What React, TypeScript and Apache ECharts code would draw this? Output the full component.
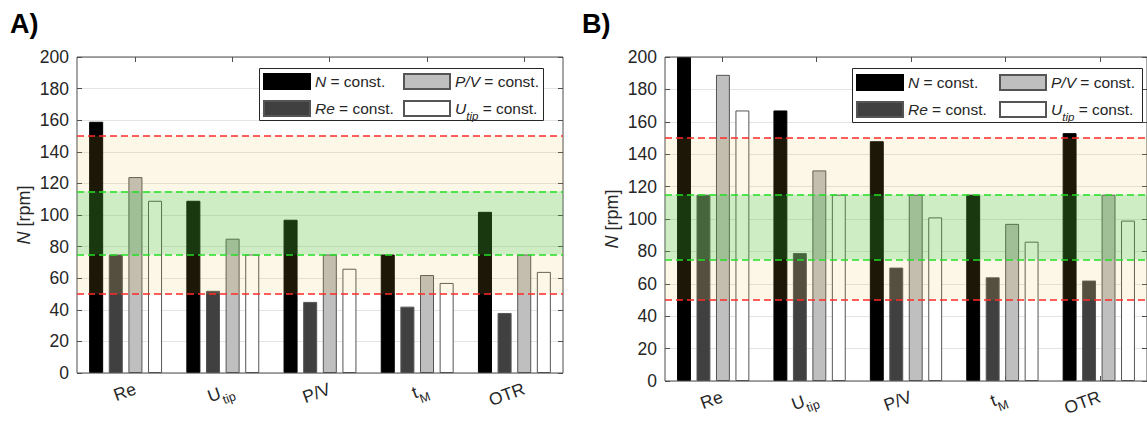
import React, { useEffect, useRef } from "react";
import * as echarts from "echarts";

// ---------- data ----------
const categories = ["Re", "Utip", "PV", "tM", "OTR"];
const seriesNames = ["N", "Re", "PV", "Utip"];

const aN = [159, 109, 97, 75, 102];
const aRe = [75, 52, 45, 42, 38];
const aPV = [124, 85, 75, 62, 75];
const aUtip = [109, 75, 66, 57, 64];

const bN = [200, 167, 148, 115, 153];
const bRe = [115, 79, 70, 64, 62];
const bPV = [189, 130, 115, 97, 115];
const bUtip = [167, 115, 101, 86, 99];

const tickLabels = ["{r|Re}", "{r|U}{sub|tip}", "{r|P/V}", "{r|t}{sub|M}", "{r|OTR}"];
const tickShift = 0.1; // ticks sit 0.1 category to the right of the group centre

const yellowBands = [
  [50, 75],
  [115, 150],
];
const greenBands = [[75, 115]];
const redLines = [50, 150];
const greenLines = [75, 115];

// ---------- styles ----------
const FONT = '"Liberation Sans", Arial, Helvetica, sans-serif';
const TXT = "#262626";
const AX = "#4d4d4d";
const barColors = ["#000000", "#404040", "#bfbfbf", "#ffffff"];
const legendText: Record<string, string> = {
  N: "{i|N}{n| = const.}",
  Re: "{i|Re}{n| = const.}",
  PV: "{i|P/V}{n| = const.}",
  Utip: "{i|U}{si|tip}{n| = const.}",
};

const hiddenParts = {
  axisLine: { show: false },
  axisTick: { show: false },
  axisLabel: { show: false },
  splitLine: { show: false },
};

function App() {
  const ref = useRef<HTMLDivElement>(null);
  useEffect(() => {
    if (!ref.current) return;
    const chart = echarts.init(ref.current, undefined, { renderer: "svg" });

    const mainGrids = [
      { left: 77, top: 57, width: 486, height: 316 },
      { left: 665, top: 57, width: 492, height: 324 },
    ];
    const panels = [
      [aN, aRe, aPV, aUtip],
      [bN, bRe, bPV, bUtip],
    ];

    const grid: any[] = mainGrids.map((g) => ({
      ...g,
      show: true,
      borderColor: AX,
      borderWidth: 1,
      backgroundColor: "transparent",
      z: 4,
    }));
    const shifted = (g: any) => ({
      left: g.left + (g.width / categories.length) * tickShift,
      top: g.top,
      width: g.width,
      height: g.height,
    });
    // grids 2,3: shifted copies used for the tick marks and tick labels
    mainGrids.forEach((g) => grid.push(shifted(g)));

    const xAxis: any[] = [];
    const yAxis: any[] = [];
    const series: any[] = [];

    mainGrids.forEach((g, p) => {
      xAxis.push({
        type: "category",
        gridIndex: p,
        data: categories,
        ...hiddenParts,
      });
      yAxis.push({
        type: "value",
        gridIndex: p,
        position: "left",
        min: 0,
        max: 200,
        interval: 20,
        name: "{i|N}{n| [rpm]}",
        nameLocation: "middle",
        nameRotate: 90,
        nameGap: 44,
        nameTextStyle: {
          fontSize: 18,
          fontFamily: FONT,
          color: TXT,
          rich: {
            i: { fontStyle: "italic", fontSize: 18, fontFamily: FONT, color: TXT },
            n: { fontSize: 18, fontFamily: FONT, color: TXT },
          },
        },
        axisLine: { show: false },
        axisTick: { show: true, inside: true, length: 5, lineStyle: { color: AX } },
        axisLabel: { fontSize: 17.5, fontFamily: FONT, color: TXT, margin: 8 },
        splitLine: { show: true, lineStyle: { color: "#e4e4e4", width: 1 } },
      });
      yAxis.push({
        type: "value",
        gridIndex: p,
        position: "right",
        min: 0,
        max: 200,
        interval: 20,
        axisLine: { show: false },
        axisTick: { show: true, inside: true, length: 5, lineStyle: { color: AX } },
        axisLabel: { show: false },
        splitLine: { show: false },
      });

      const data = panels[p];
      seriesNames.forEach((name, s) => {
        series.push({
          type: "bar",
          name,
          xAxisIndex: p,
          yAxisIndex: p * 2,
          data: data[s],
          barCategoryGap: "25%",
          barGap: "40%",
          z: 2,
          itemStyle: {
            color: barColors[s],
            borderColor: s === 0 ? "#000000" : "#555555",
            borderWidth: 1,
          },
          silent: true,
        });
      });

      series.push({
        type: "line",
        name: "bands" + p,
        xAxisIndex: p,
        yAxisIndex: p * 2,
        data: [],
        silent: true,
        z: 5,
        markArea: {
          silent: true,
          z: 5,
          label: { show: false },
          data: [
            ...yellowBands.map((b) => [
              { yAxis: b[0], itemStyle: { color: "rgba(237,187,68,0.12)" } },
              { yAxis: b[1] },
            ]),
            ...greenBands.map((b) => [
              { yAxis: b[0], itemStyle: { color: "rgba(90,193,55,0.29)" } },
              { yAxis: b[1] },
            ]),
          ],
        },
        markLine: {
          silent: true,
          z: 6,
          symbol: "none",
          label: { show: false },
          data: [
            ...redLines.map((v) => ({
              yAxis: v,
              lineStyle: { color: "#ff2a2a", width: 1.5, type: [7, 4] },
            })),
            ...greenLines.map((v) => ({
              yAxis: v,
              lineStyle: { color: "#22e022", width: 1.5, type: [7, 4] },
            })),
          ],
        },
      });
    });

    // tick + label axes on the shifted grids (2,3)
    mainGrids.forEach((g, p) => {
      xAxis.push({
        type: "category",
        gridIndex: p + 2,
        position: "bottom",
        data: categories,
        axisLine: { show: true, lineStyle: { color: "rgba(0,0,0,0)" } },
        axisTick: {
          show: true,
          inside: true,
          length: 5,
          alignWithLabel: true,
          lineStyle: { color: AX },
        },
        axisLabel: {
          show: true,
          interval: 0,
          rotate: 20,
          margin: 15,
          fontSize: 17.5,
          color: TXT,
          formatter: (_v: string, i: number) => tickLabels[i],
          rich: {
            r: { fontSize: 17.5, color: TXT },
            sub: {
              fontSize: 12.5,
              color: TXT,
              verticalAlign: "bottom",
              lineHeight: 30,
            },
          },
        },
        splitLine: { show: false },
      });
      xAxis.push({
        type: "category",
        gridIndex: p + 2,
        position: "top",
        data: categories,
        axisLine: { show: true, lineStyle: { color: "rgba(0,0,0,0)" } },
        axisTick: {
          show: true,
          inside: true,
          length: 5,
          alignWithLabel: true,
          lineStyle: { color: AX },
        },
        axisLabel: { show: false },
        splitLine: { show: false },
      });
      yAxis.push({
        type: "value",
        gridIndex: p + 2,
        min: 0,
        max: 200,
        ...hiddenParts,
      });
    });

    const legendBase = {
      orient: "vertical",
      itemWidth: 46,
      itemHeight: 15,
      itemGap: 10,
      selectedMode: false,
      icon: "rect",
      z: 7,
      padding: 0,
      formatter: (name: string) => legendText[name],
      textStyle: {
        fontSize: 15.5,
        fontFamily: FONT,
        color: TXT,
        rich: {
          i: { fontStyle: "italic", fontSize: 15.5, fontFamily: FONT, color: TXT },
          n: { fontSize: 15.5, fontFamily: FONT, color: TXT },
          si: {
            fontStyle: "italic",
            fontSize: 11.5,
            fontFamily: FONT,
            color: TXT,
            verticalAlign: "bottom",
            lineHeight: 26,
          },
        },
      },
    };

    const legend = [
      { ...legendBase, left: 263, top: 73, data: ["N", "Re"] },
      { ...legendBase, left: 403, top: 73, data: ["PV", "Utip"] },
      { ...legendBase, left: 856, top: 74, data: ["N", "Re"] },
      { ...legendBase, left: 999, top: 74, data: ["PV", "Utip"] },
    ];

    const graphic = [
      {
        type: "rect",
        z: 6,
        silent: true,
        shape: { x: 259.5, y: 68.5, width: 284, height: 52 },
        style: { fill: "#ffffff", stroke: TXT, lineWidth: 1 },
      },
      {
        type: "rect",
        z: 6,
        silent: true,
        shape: { x: 852.5, y: 68.5, width: 290, height: 54 },
        style: { fill: "#ffffff", stroke: TXT, lineWidth: 1 },
      },
      {
        type: "text",
        x: 10,
        y: 10,
        style: {
          text: "A)",
          fontSize: 27,
          fontWeight: "bold",
          fontFamily: FONT,
          fill: "#000000",
        },
      },
      {
        type: "text",
        x: 582,
        y: 10,
        style: {
          text: "B)",
          fontSize: 27,
          fontWeight: "bold",
          fontFamily: FONT,
          fill: "#000000",
        },
      },
    ];

    chart.setOption({
      animation: false,
      backgroundColor: "#ffffff",
      textStyle: { fontFamily: FONT },
      grid,
      xAxis,
      yAxis,
      series,
      legend,
      graphic,
    });

    return () => chart.dispose();
  }, []);

  return (
    <div
      ref={ref}
      style={{ position: "fixed", left: 0, top: 0, width: 1147, height: 422 }}
    />
  );
}

export default App;
